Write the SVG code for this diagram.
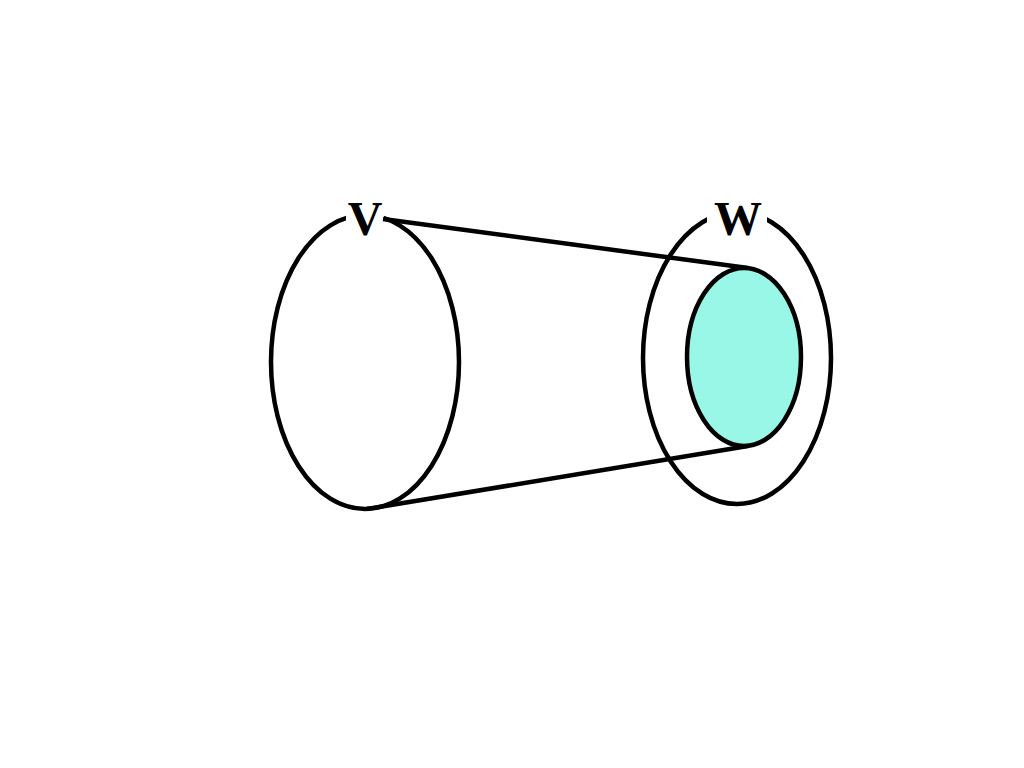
<svg xmlns="http://www.w3.org/2000/svg" width="1024" height="768" viewBox="0 0 1024 768">
<style>
.s{fill:none;stroke:#000;stroke-width:4.5}
.lbl{font-family:"Liberation Serif",serif;font-weight:bold;font-size:48px;text-anchor:middle;fill:#000}
</style>
<rect width="1024" height="768" fill="#fff"/>
<g id="V">
<ellipse class="s" cx="365" cy="362" rx="94" ry="147" fill="#fff"/>
<rect x="346" y="200" width="38" height="36" fill="#fff"/>
<text class="lbl" x="365" y="235">V</text>
</g>
<g id="W">
<ellipse class="s" cx="737" cy="358" rx="94" ry="146"/>
<rect x="707" y="200" width="60" height="36" fill="#fff"/>
<text class="lbl" x="738" y="235">W</text>
</g>
<g id="connectors">
<line class="s" x1="383" y1="219" x2="748" y2="268"/>
<line class="s" x1="367" y1="509" x2="748" y2="446"/>
</g>
<g id="image">
<ellipse cx="744" cy="357" rx="57" ry="89" fill="#99F7E8" stroke="#000" stroke-width="4.5"/>
</g>
</svg>
